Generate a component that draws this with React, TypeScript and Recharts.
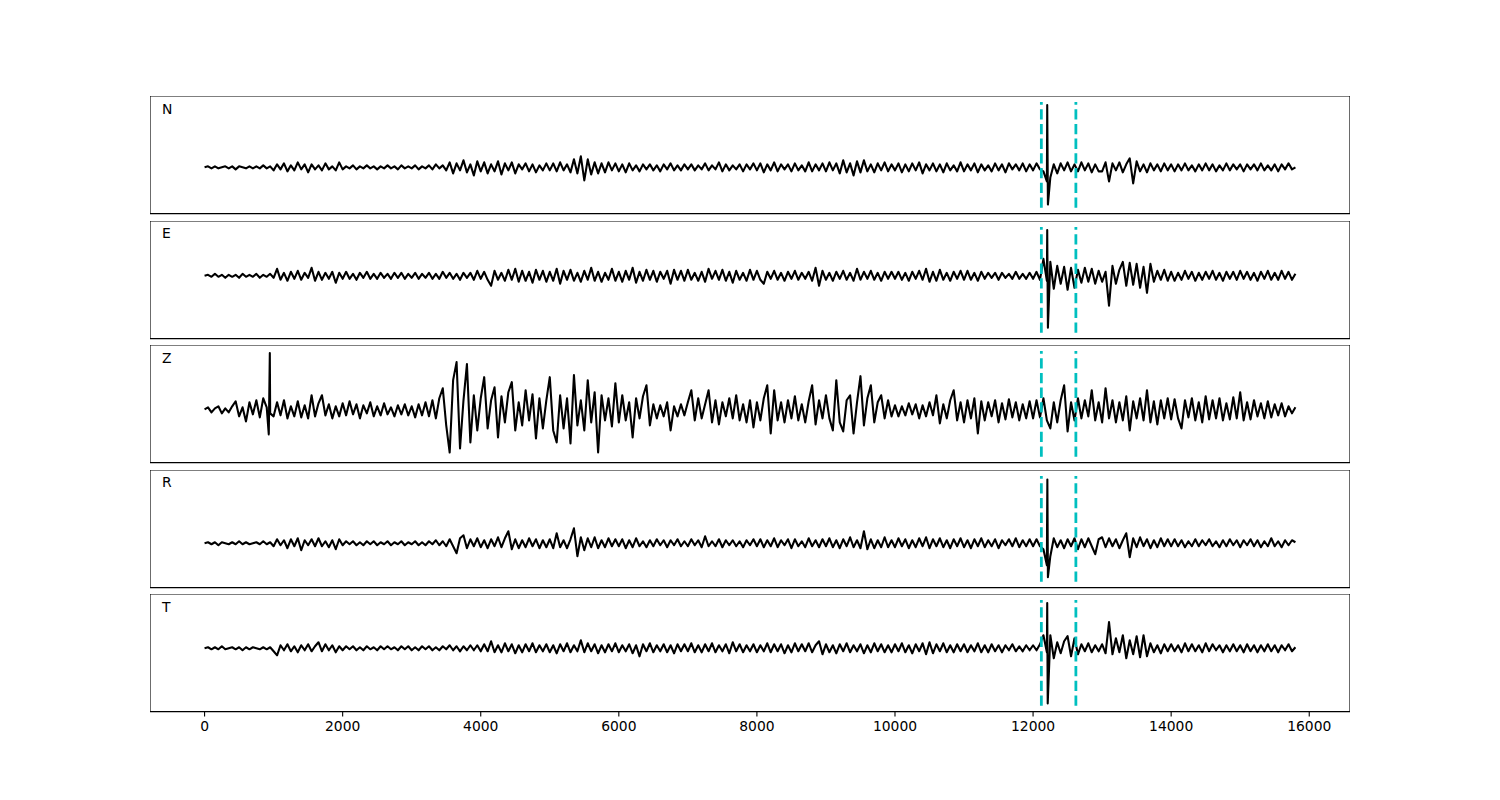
import React from 'react';
import { LineChart, Line, XAxis, YAxis, ReferenceLine, ReferenceArea } from 'recharts';

// ---- axis / layout constants ----
const X_DOMAIN: [number, number] = [-790, 16590];
const X_TICKS = [0, 2000, 4000, 6000, 8000, 10000, 12000, 14000, 16000];
const PICKS = [12120, 12620];
const STEP = 50;
const GROUP_SPAN = 1000;
const CHANNELS = ['N', 'E', 'Z', 'R', 'T'];

// ---- waveform samples (amplitude, one row = 1000 time units, step 50) ----
const nWave = [
  [0, 1, -1, 1, -1, 0, 1, -1, 1, -2, 1, 0, -1, 1, -1, 1, -1, 2, -1, 1],
  [-3, 3, -2, 4, -4, 2, -3, 5, -2, 3, -5, 3, -2, 2, -3, 4, -2, 1, -3, 5],
  [-2, 1, -1, 2, -2, 1, -1, 2, -1, 1, -2, 1, -1, 2, -1, 1, -2, 2, -1, 1],
  [-1, 2, -2, 1, -1, 2, -2, 3, -1, 2, -3, 5, -6, 4, -3, 7, -5, 3, -8, 6],
  [-4, 5, -6, 3, -4, 6, -7, 4, -3, 5, -6, 3, -2, 4, -4, 3, -5, 2, -3, 4],
  [-3, 4, -4, 5, -3, 3, -5, 8, -6, 11, -13, 8, -7, 5, -6, 4, -5, 5, -3, 4],
  [-4, 3, -5, 4, -3, 2, -4, 3, -2, 3, -3, 2, -4, 3, -2, 4, -3, 2, -3, 3],
  [-2, 3, -3, 2, -2, 4, -3, 2, -2, 5, -4, 3, -3, 2, -2, 3, -4, 3, -2, 4],
  [-3, 4, -5, 3, -3, 5, -4, 3, -2, 3, -4, 4, -3, 2, -4, 5, -4, 3, -3, 4],
  [-4, 5, -3, 4, -6, 7, -5, 4, -8, 6, -5, 7, -4, 3, -5, 4, -3, 5, -4, 3],
  [-3, 4, -5, 3, -4, 4, -3, 5, -6, 3, -3, 4, -4, 3, -5, 4, -3, 2, -4, 5],
  [-4, 3, -3, 4, -5, 3, -3, 2, -4, 4, -3, 3, -5, 4, -2, 3, -3, 4, -4, 3],
  [-3, 4, -2, -4, -14, -10, 3, -6, 4, -3, 5, -4, 3, -4, 5, -3, 4, -5, 3, -4],
  [-4, 5, -14, 4, -3, 5, -5, 3, 9, -16, 6, -4, 3, -5, 4, -3, 3, -4, 4, -3],
  [3, -4, 3, -3, 4, -3, 2, -4, 3, -3, 4, -3, 3, -4, 2, -3, 4, -3, 3, -2],
  [3, -4, 3, -2, 3, -3, 4, -3, 2, -3, 3, -4, 3, -2, 4, -2, 0],
];
const nSpike = [[12205, 62], [12215, -37]];

const eWave = [
  [0, 1, -1, 2, -1, 1, -2, 1, -1, 1, -2, 2, -1, 1, -1, 2, -2, 1, -1, 2],
  [-2, 7, -4, 3, -5, 4, -3, 5, -4, 3, -2, 8, -5, 4, -4, 3, -3, 4, -7, 3],
  [-3, 4, -3, 2, -4, 3, -2, 4, -3, 2, -3, 3, -2, 2, -3, 3, -2, 3, -3, 2],
  [-2, 3, -3, 2, -2, 3, -3, 2, -3, 4, -2, 3, -3, 2, -4, 3, -2, 3, -4, 5],
  [-3, 4, -4, -10, 5, -4, 3, -5, 6, -4, 7, -6, 5, -5, 4, -7, 6, -4, 5, -6],
  [4, -5, 7, -8, 5, -4, 6, -5, 3, -6, 5, -4, 8, -5, 4, -6, 3, -4, 7, -5],
  [4, -6, 5, -4, 8, -7, 4, -5, 6, -4, 5, -6, 4, -3, 5, -8, 6, -4, 5, -5],
  [6, -4, 3, -5, 4, -6, 7, -3, 5, -4, 6, -5, 4, -7, 5, -4, 3, -5, 6, -4],
  [5, -4, -8, 4, -3, 5, -4, 3, -5, 4, -3, 5, -4, 3, -3, 4, -5, 8, -10, 5],
  [-4, 3, -5, 4, -3, 5, -4, 3, -5, 7, -4, 4, -3, 5, -4, 3, -5, 4, -3, 4],
  [-3, 4, -4, 3, -5, 4, -3, 5, -4, 7, -6, 4, -5, 6, -4, 3, -5, 4, -3, 5],
  [-4, 5, -4, 3, -5, 4, -3, 3, -2, 3, -4, 3, -2, 2, -3, 4, -3, 2, -3, 3],
  [-3, 4, -4, 17, -5, 14, -13, 10, -8, 9, -14, 8, -12, 6, -7, 8, -6, 7, -8, 5],
  [-6, 4, -30, 10, -8, 6, 14, -10, 13, -9, 12, -12, 9, -17, 12, -6, 5, -4, 6, -5],
  [4, -5, 3, -4, 5, -3, 4, -5, 3, -4, 4, -3, 5, -4, 3, -5, 4, -3, 4, -4],
  [5, -3, 4, -4, 3, -5, 4, -3, 5, -4, 3, -4, 5, -3, 4, -4, 2],
];
const eSpike = [[12205, 46], [12215, -52]];

const zWave = [
  [1, 3, -2, 2, 4, -3, 2, -2, 4, 9, -6, 3, -11, 8, -4, 10, -7, 12, 3, -3],
  [-6, 8, -5, 10, -8, 4, -6, 9, -7, 5, -8, 15, -6, 7, 15, -5, 6, -8, 4, -6],
  [7, -5, 9, -4, 6, -8, 5, -3, 8, -6, 4, -5, 7, -4, 3, -6, 5, -4, 6, -5],
  [4, -7, 6, -5, 8, -6, 10, -8, 12, 22, -15, -42, 30, 48, -38, 10, 46, -32, 15, -20],
  [12, 33, -18, 10, 23, -27, 14, -12, 18, 28, -20, 8, -15, 20, -10, 16, -28, 12, -18, 10],
  [33, -20, -32, 15, -18, 12, -33, 35, -15, 10, -20, 30, -12, 18, -42, 15, -10, 12, -16, 27],
  [-12, 15, -10, 8, -27, 12, -8, 14, 25, -15, 6, -8, 5, -6, 8, -20, 4, -6, 6, -5],
  [8, 20, -10, 12, -8, 6, 20, -12, 10, -14, 8, -6, 12, -8, 15, -10, 6, -12, 10, -17],
  [8, -10, 12, 25, -23, 20, -10, 8, -12, 10, -8, 14, -10, 6, -12, 9, 25, -14, 10, -8],
  [15, -8, -20, 30, -12, -21, 10, 15, -23, 8, 34, -15, 12, 25, -12, 8, 15, -8, 10, -6],
  [5, -6, 4, -5, 7, -4, 6, -8, 5, -6, 8, -5, 15, -13, 6, -8, 10, 20, -10, 8],
  [-12, 10, -8, 12, -23, 9, -10, 8, -6, 10, -12, 7, -9, 11, -7, 8, -10, 6, -8, 9],
  [-8, 10, -7, 12, -10, -18, 8, -12, 10, 25, -21, 8, -10, 12, -8, 10, -6, 20, -10, 8],
  [-12, 22, -8, 10, -12, 8, -10, 14, -20, 9, -8, 12, -10, 20, -12, 9, -14, 10, -8, 12],
  [-9, 11, -8, -18, 10, -7, 12, -10, 8, -12, 14, -9, 10, -8, 12, -10, 7, -9, 13, -8],
  [18, -10, 8, -9, 10, -6, 7, -8, 9, -7, 6, -5, 7, -6, 4, -3, 3],
];
const zSpike = [[930, -24], [945, 57]];

const rWave = [
  [0, 1, -1, 1, -2, 1, 0, -1, 1, -1, 2, -1, 1, -1, 0, 1, -1, 2, -1, 1],
  [-3, 4, -2, 3, -5, 4, -3, 5, -7, 3, -2, 4, -3, 5, -3, 2, -4, 3, -6, 4],
  [-2, 2, -1, 2, -2, 1, -2, 2, -1, 2, -2, 1, -1, 2, -2, 1, -1, 2, -2, 1],
  [-1, 2, -2, 1, -2, 2, -1, 3, -2, 2, -3, 4, -3, -10, 5, 8, -5, 4, -3, 5],
  [-4, 3, -5, 4, -3, 6, -4, 5, 12, -6, 4, -5, 3, -4, 5, -3, 4, -5, 3, -4],
  [4, -5, 10, -4, 3, -5, 4, 15, -13, 6, -7, 5, -4, 6, -5, 3, -4, 5, -3, 4],
  [-3, 4, -5, 3, -4, 5, -3, 2, -4, 3, -3, 4, -2, 3, -4, 3, -2, 4, -3, 2],
  [-3, 4, -2, 3, -4, 7, -3, 2, -3, 4, -4, 3, -2, 3, -3, 2, -4, 3, -2, 4],
  [-3, 4, -4, 3, -3, 5, -4, 3, -2, 4, -5, 4, -3, 2, -4, 5, -3, 3, -4, 4],
  [-3, 5, -4, 3, -5, 4, -3, 6, -4, 3, -5, 12, -6, 4, -5, 3, -4, 6, -4, 3],
  [-4, 5, -3, 4, -5, 3, -4, 5, -3, 6, -5, 4, -3, 5, -4, 3, -5, 4, -3, 5],
  [-4, 3, -5, 4, -3, 5, -4, 3, -3, 4, -5, 3, -2, 4, -3, 5, -4, 3, -3, 4],
  [-3, 4, -3, -6, -22, -13, 5, -4, 3, -5, 4, -3, 5, -6, 4, -4, 5, -3, -11, 4],
  [6, -4, 5, -3, 4, -5, 3, 10, -14, 5, -4, 6, -3, 4, -5, 3, -4, 5, -3, 4],
  [-3, 4, -3, 3, -4, 2, -3, 4, -3, 3, -2, 4, -3, 2, -4, 3, -3, 4, -2, 3],
  [-4, 3, -2, 4, -3, 3, -4, 2, -3, 5, -3, 2, -4, 3, -2, 3, 1],
];
const rSpike = [[12203, 22], [12207, 64], [12215, -34]];

const tWave = [
  [0, 1, -1, 1, -1, 2, -1, 0, 1, -1, 1, -2, 1, -1, 1, 0, -1, 1, -1, 1],
  [-3, -7, 3, -2, 4, -3, 2, -4, 3, -2, 4, -3, 2, 6, -3, 4, -2, 3, -4, 2],
  [-2, 2, -1, 2, -2, 1, -2, 2, -1, 1, -2, 2, -1, 2, -1, 1, -2, 2, -1, 2],
  [-2, 1, -2, 2, -1, 2, -2, 1, -2, 2, -1, 3, -2, 2, -3, 2, -2, 3, -2, 3],
  [-3, 4, -3, 7, -4, 3, -4, 5, -3, 4, -5, 3, -4, 4, -3, 5, -4, 3, -3, 4],
  [-4, 3, -5, 4, -3, 5, -4, 3, -3, 8, -4, 5, -3, 4, -5, 3, -4, 4, -3, 5],
  [-4, 3, -3, 4, -5, 3, -8, 4, -3, 5, -4, 3, -3, 4, -4, 3, -5, 4, -3, 4],
  [-3, 5, -4, 3, -4, 4, -3, 5, -4, 3, -3, 4, -5, 6, -3, 4, -4, 3, -3, 4],
  [-4, 3, -3, 5, -4, 4, -3, 4, -5, 3, -4, 5, -3, 4, -3, 5, -4, 3, 7, -6],
  [4, -4, 3, -5, 4, -3, 5, -4, 3, -3, 4, -5, 3, -4, 5, -3, 4, -4, 3, -4],
  [4, -3, 5, -4, 3, -5, 4, -3, 5, -6, 6, -5, 4, -3, 5, -4, 3, -4, 4, -3],
  [4, -4, 3, -3, 5, -4, 3, -4, 4, -3, 3, -4, 3, -2, 4, -3, 2, -3, 3, -2],
  [3, -2, 4, 13, -4, 13, -10, 6, -5, 7, 12, -8, 10, -6, 4, -3, 5, -4, 3, -3],
  [4, -5, 26, -6, 10, -4, 13, -10, 8, -6, 12, -9, 13, -8, 5, -4, 3, -5, 4, -3],
  [4, -3, 3, -4, 5, -3, 4, -3, 3, -4, 5, -3, 4, -2, 3, -4, 3, -3, 4, -3],
  [3, -4, 4, -3, 3, -4, 3, -3, 4, -3, 3, -4, 3, -2, 4, -3, 1],
];
const tSpike = [[12205, 45], [12212, -55]];

// y-limits of each panel (same units as the samples)
const nLimits: [number, number] = [-46, 71];
const eLimits: [number, number] = [-63, 55];
const zLimits: [number, number] = [-52, 65];
const rLimits: [number, number] = [-44.5, 73.5];
const tLimits: [number, number] = [-63, 54];

const WAVES = [nWave, eWave, zWave, rWave, tWave];
const SPIKES = [nSpike, eSpike, zSpike, rSpike, tSpike];
const LIMITS = [nLimits, eLimits, zLimits, rLimits, tLimits];

// ---- layout (matplotlib-like subplot grid) ----
const FIG_W = 1500;
const FIG_H = 800;
const AX_LEFT = 150;
const AX_W = 1200;
const AX_TOP = 96;
const PANEL_H = 117.6;
const PANEL_GAP = 7;
const FONT = 'DejaVu Sans, Verdana, sans-serif';

function buildRows(groups: number[][], extra: number[][]) {
  const rows: { t: number; v: number }[] = [];
  groups.forEach((g, gi) => g.forEach((v, j) => rows.push({ t: gi * GROUP_SPAN + j * STEP, v })));
  extra.forEach(([t, v]) => rows.push({ t, v }));
  rows.sort((a, b) => a.t - b.t);
  return rows;
}

function Panel({ idx }: { idx: number }) {
  const last = idx === CHANNELS.length - 1;
  const data = buildRows(WAVES[idx], SPIKES[idx]);
  const lim = LIMITS[idx];
  const span = lim[1] - lim[0];
  const lo = lim[0] + 0.05 * span;
  const hi = lim[1] - 0.05 * span;
  const axisH = last ? 34 : 6;
  const top = AX_TOP + idx * (PANEL_H + PANEL_GAP);
  return (
    <div style={{ position: 'absolute', left: AX_LEFT, top, width: AX_W, height: PANEL_H + axisH }}>
      <LineChart width={AX_W} height={PANEL_H + axisH} data={data} margin={{ top: 0, right: 0, bottom: 0, left: 0 }}>
        <XAxis
          type="number"
          dataKey="t"
          domain={X_DOMAIN}
          ticks={X_TICKS}
          interval={0}
          allowDataOverflow
          axisLine={false}
          tickLine={{ stroke: '#000', strokeWidth: 1.1 }}
          tickSize={4.9}
          tickMargin={4.9}
          height={axisH}
          tick={last ? { fill: '#000', fontSize: 13.9, fontFamily: FONT } : false}
        />
        <YAxis type="number" domain={lim} hide allowDataOverflow />
        <Line
          dataKey="v"
          type="linear"
          stroke="#000"
          strokeWidth={2.08}
          strokeLinejoin="round"
          dot={false}
          activeDot={false}
          isAnimationActive={false}
        />
        {PICKS.map((p) => (
          <ReferenceLine
            key={p}
            segment={[{ x: p, y: lo }, { x: p, y: hi }]}
            stroke="#00bfbf"
            strokeWidth={2.78}
            strokeDasharray="10.3 4.4"
            ifOverflow="visible"
          />
        ))}
        <ReferenceArea
          x1={X_DOMAIN[0]}
          x2={X_DOMAIN[1]}
          y1={lim[0]}
          y2={lim[1]}
          fill="none"
          fillOpacity={0}
          stroke="#000"
          strokeWidth={1.1}
          ifOverflow="visible"
        />
      </LineChart>
    </div>
  );
}

export default function App() {
  return (
    <div style={{ position: 'absolute', left: 0, top: 0, width: FIG_W, height: FIG_H, background: '#fff', fontFamily: FONT }}>
      {CHANNELS.map((c, i) => (
        <Panel key={c} idx={i} />
      ))}
      <svg width={FIG_W} height={FIG_H} style={{ position: 'absolute', left: 0, top: 0, pointerEvents: 'none' }}>
        {CHANNELS.map((c, i) => (
          <text
            key={c}
            x={AX_LEFT + AX_W * 0.01}
            y={AX_TOP + i * (PANEL_H + PANEL_GAP) + PANEL_H * 0.15}
            fontSize={13.9}
            fontFamily={FONT}
            fill="#000"
          >
            {c}
          </text>
        ))}
      </svg>
    </div>
  );
}
